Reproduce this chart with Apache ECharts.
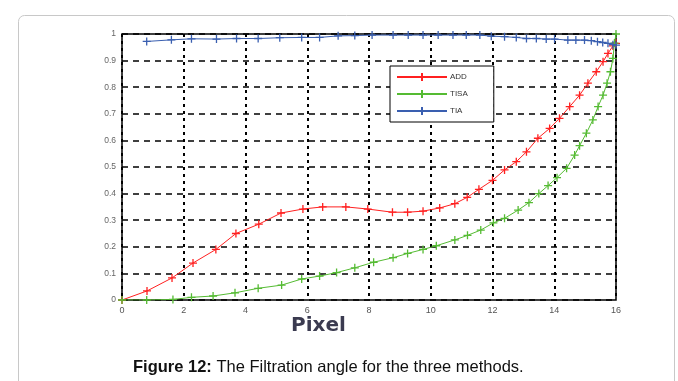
<!DOCTYPE html>
<html><head><meta charset="utf-8">
<script src="https://cdn.jsdelivr.net/npm/echarts@6/dist/echarts.min.js"></script>
<style>html,body{margin:0;padding:0;background:#fff}#c{width:678px;height:381px}</style>
</head><body><div id="c"></div>
<script>
const xTicks = [0, 2, 4, 6, 8, 10, 12, 14, 16];
const yTickLabels = ['0','0.1','0.2','0.3','0.4','0.5','0.6','0.7','0.8','0.9','1'];
const seriesNames = ['ADD', 'TISA', 'TIA'];
const seriesColors = ['#ff2020', '#55bb33', '#3a5fb0'];

const addX = [0,0.81,1.62,2.3,3.04,3.69,4.43,5.15,5.86,6.5,7.25,7.96,8.76,9.25,9.75,10.29,10.78,11.18,11.56,12.0,12.39,12.77,13.1,13.47,13.85,14.17,14.5,14.82,15.09,15.36,15.58,15.74,15.9,16];
const addY = [0,0.034,0.083,0.139,0.19,0.25,0.285,0.327,0.342,0.35,0.35,0.342,0.33,0.33,0.334,0.346,0.362,0.386,0.416,0.45,0.489,0.52,0.557,0.608,0.645,0.683,0.727,0.77,0.815,0.858,0.896,0.927,0.955,0.965];

const tisaX = [0,0.8,1.65,2.25,2.95,3.66,4.41,5.17,5.82,6.4,6.95,7.54,8.15,8.78,9.25,9.75,10.18,10.78,11.19,11.62,12.03,12.39,12.83,13.18,13.5,13.8,14.09,14.4,14.66,14.82,15.04,15.25,15.42,15.58,15.71,15.82,15.9,15.95,16];
const tisaY = [0,0,0.002,0.01,0.015,0.027,0.044,0.056,0.079,0.09,0.103,0.121,0.142,0.159,0.175,0.19,0.204,0.226,0.243,0.263,0.29,0.307,0.338,0.366,0.4,0.43,0.46,0.495,0.545,0.58,0.627,0.677,0.727,0.77,0.815,0.858,0.908,0.966,1.0];

const tiaX = [0.8,1.6,2.25,3.06,3.71,4.41,5.11,5.82,6.4,7.0,7.54,8.1,8.78,9.27,9.75,10.24,10.72,11.15,11.59,11.96,12.39,12.77,13.1,13.42,13.74,14.01,14.44,14.7,14.98,15.2,15.4,15.57,15.74,15.9,16];
const tiaY = [0.972,0.978,0.982,0.981,0.983,0.983,0.986,0.987,0.987,0.993,0.994,0.996,0.996,0.996,0.996,0.996,0.996,0.996,0.996,0.992,0.99,0.987,0.983,0.983,0.981,0.981,0.977,0.977,0.977,0.975,0.971,0.968,0.965,0.96,0.958];

const xs = [addX, tisaX, tiaX];
const ys = [addY, tisaY, tiaY];
const plus = 'path://M0,-5L0,5M-5,0L5,0';

const chart = echarts.init(document.getElementById('c'), null, {renderer: 'canvas'});
const series = seriesNames.map((n, i) => ({
  name: n,
  type: 'line',
  data: xs[i].map((x, k) => [x, ys[i][k]]),
  symbol: plus,
  symbolSize: 8,
  showAllSymbol: true,
  lineStyle: {color: seriesColors[i], width: 1},
  itemStyle: {color: seriesColors[i], borderColor: seriesColors[i], borderWidth: 1.3},
  emphasis: {disabled: true},
  animation: false,
  z: 3 + i
}));

chart.setOption({
  animation: false,
  grid: {left: 122, right: 62, top: 34, bottom: 81, show: true, borderColor: '#000', borderWidth: 1.5, containLabel: false},
  xAxis: {
    type: 'value', min: 0, max: 16, interval: 2,
    axisLine: {show: false},
    axisTick: {show: false},
    axisLabel: {color: '#555', fontSize: 9, fontFamily: 'Liberation Sans', margin: 6,
      formatter: v => xTicks.includes(v) ? String(v) : ''},
    splitLine: {show: true, lineStyle: {color: '#000', type: [3, 4], width: 2}}
  },
  yAxis: {
    type: 'value', min: 0, max: 1, interval: 0.1,
    axisLine: {show: false},
    axisTick: {show: false},
    axisLabel: {color: '#666', fontSize: 8.5, fontFamily: 'Liberation Sans', margin: 6,
      formatter: v => yTickLabels[Math.round(v * 10)]},
    splitLine: {show: true, lineStyle: {color: '#000', type: [6, 5], width: 1.5}}
  },
  legend: {
    data: seriesNames,
    orient: 'vertical',
    left: 390, top: 66,
    padding: [6, 26, 6, 6],
    itemGap: 7,
    itemWidth: 50, itemHeight: 10,
    backgroundColor: '#fff',
    borderColor: '#000', borderWidth: 1,
    textStyle: {color: '#333', fontSize: 8, fontFamily: 'Liberation Sans', padding: [0,0,0,-2]}
  },
  graphic: [
    {type: 'rect', shape: {x: 18.5, y: 15.5, width: 656, height: 420, r: 6}, style: {fill: 'none', stroke: '#c8c8c8', lineWidth: 1}, z: -10},
    {type: 'text', left: 291, top: 316, style: {text: 'Pixel', fill: '#3b3b50', font: 'bold 20px "DejaVu Sans"'}},
    {type: 'text', left: 133, top: 359, style: {
      text: '{b|Figure 12:} The Filtration angle for the three methods.',
      rich: {b: {fontWeight: 'bold', fontSize: 16.5, fontFamily: 'Liberation Sans', fill: '#111'}},
      fill: '#111', fontSize: 16.5, fontFamily: 'Liberation Sans'}}
  ],
  series: series
});
</script></body></html>
